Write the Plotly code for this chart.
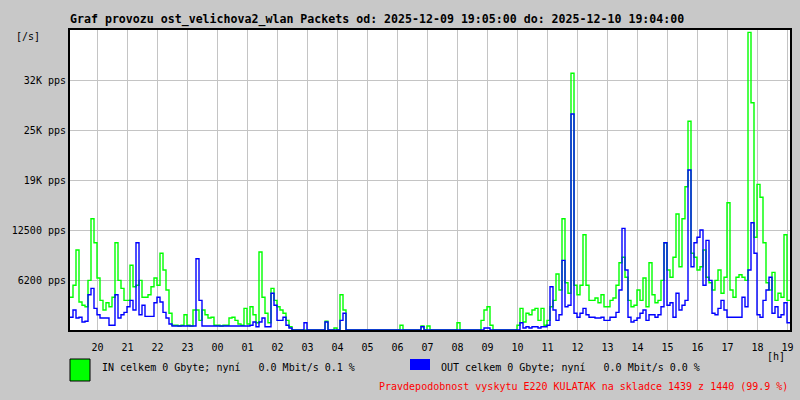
import pandas as pd
import plotly.graph_objects as go

# ---- data (packets per second, one sample per 6 minutes, start 2025-12-09 19:05) ----
start_time = "2025-12-09 19:05"
end_time = "2025-12-10 19:05"

in_pps = [
    4100, 5600, 10000, 3500, 3100, 2900, 6200, 13900, 10900, 6500,
    3700, 2500, 3400, 2900, 4100, 10900, 6200, 5200, 3700, 3700,
    8100, 5400, 5600, 6200, 4100, 4100, 4400, 5400, 6500, 5600,
    9600, 7500, 5000, 2100, 600, 600, 500, 600, 1900, 600,
    500, 2500, 2500, 1200, 2500, 1900, 1500, 1600, 600, 600,
    500, 600, 600, 1500, 1600, 1200, 750, 600, 2700, 750,
    2900, 1900, 900, 9750, 4100, 2100, 900, 5200, 3700, 2900,
    2500, 2100, 1200, 400, 0, 0, 0, 0, 0, 0,
    0, 0, 0, 0, 0, 1100, 0, 0, 250, 0,
    4400, 2500, 0, 0, 0, 0, 0, 0, 0, 0,
    0, 0, 0, 0, 0, 0, 0, 0, 0, 0,
    600, 0, 0, 0, 0, 0, 0, 500, 0, 500,
    0, 0, 0, 0, 0, 0, 0, 0, 0, 900,
    0, 0, 0, 0, 0, 0, 0, 1200, 2500, 2900,
    600, 0, 0, 0, 0, 0, 0, 0, 0, 600,
    2700, 1000, 2100, 1900, 2500, 2700, 1200, 2700, 600, 1200,
    2900, 3700, 7000, 5000, 13900, 5900, 4600, 32100, 5600, 4400,
    5600, 11900, 5600, 3700, 3700, 4000, 3400, 4400, 2900, 2900,
    3700, 4000, 5600, 8400, 9100, 6600, 3700, 2900, 3100, 5000,
    3700, 6500, 2900, 8400, 4400, 3400, 3700, 6200, 10900, 7500,
    6600, 9100, 14500, 7900, 13900, 17900, 26100, 9600, 9100, 7500,
    7900, 10000, 6600, 5900, 5000, 6200, 7500, 4600, 6600, 15900,
    5000, 4100, 6600, 6900, 6600, 6200, 37200, 28400, 11600, 18200,
    16600, 10900, 5900, 5000, 7200, 3700, 4600, 4100, 11900, 3700,
]

out_pps = [
    1600, 2500, 1500, 1600, 1000, 1100, 4400, 5200, 2700, 1900,
    1500, 1500, 1500, 600, 600, 4400, 1500, 1900, 2200, 2900,
    3700, 2500, 10900, 1900, 3100, 1700, 1700, 1700, 3400, 4100,
    3500, 2200, 1500, 750, 500, 500, 500, 500, 500, 500,
    500, 500, 8900, 3700, 500, 500, 500, 500, 500, 500,
    500, 500, 500, 500, 500, 500, 500, 500, 500, 500,
    600, 1000, 400, 1000, 1500, 400, 400, 4600, 3100, 1200,
    1200, 1600, 600, 250, 0, 0, 0, 0, 900, 0,
    0, 0, 0, 0, 0, 1000, 0, 0, 0, 0,
    1200, 2100, 0, 0, 0, 0, 0, 0, 0, 0,
    0, 0, 0, 0, 0, 0, 0, 0, 0, 0,
    0, 0, 0, 0, 0, 0, 0, 400, 0, 0,
    0, 0, 0, 0, 0, 0, 0, 0, 0, 0,
    0, 0, 0, 0, 0, 0, 0, 0, 250, 250,
    0, 0, 0, 0, 0, 0, 0, 0, 0, 0,
    900, 250, 400, 250, 400, 400, 250, 400, 400, 600,
    5400, 2500, 1200, 1900, 8700, 2900, 3100, 27000, 2100, 1600,
    2100, 2700, 1900, 1600, 1600, 1500, 1500, 1600, 1200, 1200,
    1600, 1600, 2200, 5000, 12700, 7500, 1600, 1000, 1200, 1500,
    2100, 2500, 1200, 1900, 1900, 1600, 1900, 2900, 10900, 3100,
    3400, 1600, 4600, 2500, 3100, 3700, 20000, 7900, 10900, 11600,
    12500, 5600, 11200, 6200, 2100, 1900, 2700, 3700, 2500, 1600,
    1600, 1600, 1600, 1600, 4100, 2900, 7500, 13400, 9600, 1900,
    1600, 3700, 5000, 6600, 2100, 2900, 1600, 1900, 3400, 900,
]

y_tickvals = [6250, 12500, 18750, 25000, 31250]
y_ticktext = ["6200 pps", "12500 pps", "19K pps", "25K pps", "32K pps"]
y_max = 37500

title_text = "Graf provozu ost_velichova2_wlan Packets od: 2025-12-09 19:05:00 do: 2025-12-10 19:04:00"
in_legend = "IN celkem 0 Gbyte; nyní   0.0 Mbit/s 0.1 %"
out_legend = "OUT celkem 0 Gbyte; nyní   0.0 Mbit/s 0.0 %"
footer = "Pravdepodobnost vyskytu E220 KULATAK na skladce 1439 z 1440 (99.9 %)"

# ---- build ----
times = list(pd.date_range(start_time, periods=len(in_pps), freq="6min")) + [pd.Timestamp(end_time)]
in_y = in_pps + [in_pps[-1]]
out_y = out_pps + [out_pps[-1]]

NB = "\u00a0"
def pad(s, n=9):
    return NB * (n - len(s)) + s.replace(" ", NB)

MONO = "DejaVu Sans Mono"
W, H = 800, 400
L, R, T, B = 70, 10, 30, 70
PW, PH = W - L - R, H - T - B

def px(x):
    return (x - L) / PW

def py(y):
    return (H - B - y) / PH

fig = go.Figure()
fig.add_trace(go.Scatter(x=times, y=in_y, mode="lines", line=dict(color="#00ff00", width=1.4, shape="hv"),
                         name="IN", showlegend=False, hoverinfo="skip"))
fig.add_trace(go.Scatter(x=times, y=out_y, mode="lines", line=dict(color="#0000ff", width=1.4, shape="hv"),
                         name="OUT", showlegend=False, hoverinfo="skip"))

fig.update_layout(
    width=W, height=H,
    margin=dict(l=L, r=R, t=T, b=B, pad=0, autoexpand=False),
    paper_bgcolor="#c8c8c8",
    plot_bgcolor="#ffffff",
    font=dict(family=MONO, size=10, color="#000000"),
    xaxis=dict(
        type="date",
        range=[pd.Timestamp(start_time), pd.Timestamp(end_time)],
        tick0="2025-12-09 20:00", dtick=3600000, tickformat="%H",
        showgrid=True, gridcolor="#c4c4c4", gridwidth=1,
        ticks="outside", ticklen=7, tickcolor="rgba(0,0,0,0)",
        showline=True, linecolor="#000000", linewidth=2, mirror=True,
        zeroline=False, tickfont=dict(family=MONO, size=10),
        automargin=False,
    ),
    yaxis=dict(
        range=[0, y_max],
        tickvals=y_tickvals, ticktext=[pad(t) for t in y_ticktext],
        showgrid=True, gridcolor="#c4c4c4", gridwidth=1,
        ticks="", showline=True, linecolor="#000000", linewidth=2, mirror=True,
        zeroline=False, tickfont=dict(family=MONO, size=10),
        automargin=False,
    ),
)

ann = [
    dict(text="<b>" + title_text.replace(" ", NB) + "</b>", x=px(68), y=py(19), xanchor="left", yanchor="middle",
         font=dict(family=MONO, size=11.6)),
    dict(text="[/s]", x=px(14), y=py(37), xanchor="left", yanchor="middle", font=dict(family=MONO, size=10)),
    dict(text="[h]", x=px(787), y=py(356), xanchor="right", yanchor="middle", font=dict(family=MONO, size=10)),
    dict(text=in_legend.replace(" ", NB), x=px(100), y=py(367), xanchor="left", yanchor="middle",
         font=dict(family=MONO, size=10)),
    dict(text=out_legend.replace(" ", NB), x=px(439), y=py(367), xanchor="left", yanchor="middle",
         font=dict(family=MONO, size=10)),
    dict(text=footer.replace(" ", NB), x=px(790), y=py(386), xanchor="right", yanchor="middle",
         font=dict(family=MONO, size=10, color="#ff0000")),
]
for a in ann:
    a.update(xref="paper", yref="paper", showarrow=False)
fig.update_layout(annotations=ann)

fig.update_layout(shapes=[
    dict(type="rect", xref="paper", yref="paper", x0=px(70), x1=px(90), y0=py(381), y1=py(359),
         fillcolor="#00ff00", line=dict(color="#000000", width=1)),
    dict(type="rect", xref="paper", yref="paper", x0=px(410), x1=px(430), y0=py(370), y1=py(359),
         fillcolor="#0000ff", line=dict(width=0)),
])

fig.write_html("out.html", config={"displayModeBar": False},
               post_script="document.body.style.margin='0';document.body.style.padding='0';")
